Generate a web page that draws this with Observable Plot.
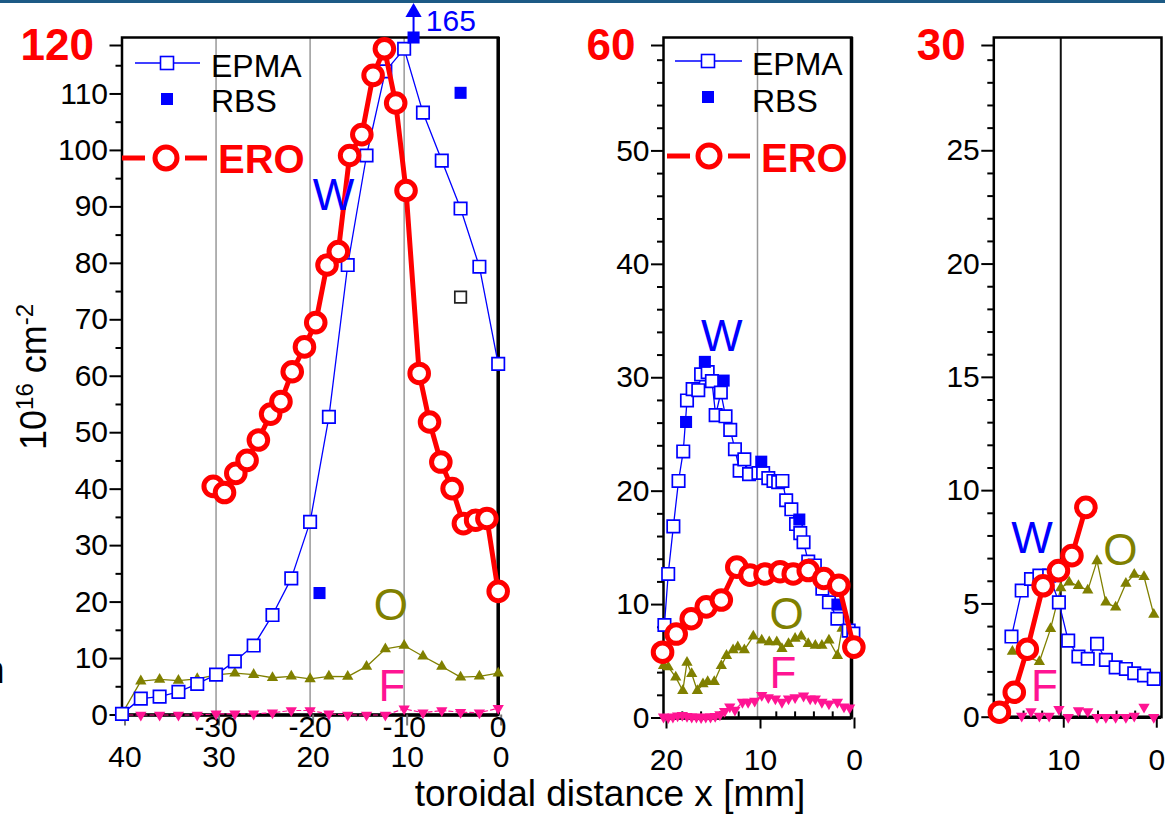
<!DOCTYPE html>
<html>
<head>
<meta charset="utf-8">
<script src="https://cdn.jsdelivr.net/npm/d3@7"></script>
<script src="https://cdn.jsdelivr.net/npm/@observablehq/plot@0.6"></script>
<style>
  html, body { margin:0; padding:0; background:#fff; }
  #root { position:relative; width:1165px; height:815px; overflow:hidden; background:#fff;
          font-family:"Liberation Sans", Arial, Helvetica, sans-serif; }
  .panel { position:absolute; top:0; }
  .panel svg { overflow: visible; }
  #overlay { position:absolute; left:0; top:0; pointer-events:none; overflow:visible; }
</style>
</head>
<body>
<div id="root"></div>
<script>
// ================= DATA =================
// ---- Panel 1 (x: 40 .. 0 mm, y: 0..120) ----
const epma1X = [40,38,36,34,32,30,28,26,24,22,20,18,16,14,12,10,8,6,4,2,0];
const epma1Y = [0.2,2.9,3.25,4.1,5.5,7.15,9.5,12.3,17.7,24.2,34.2,52.8,79.7,99.1,114,118.0,106.7,98.2,89.7,79.4,62.2];
const rbs1X = [19,9,4];
const rbs1Y = [21.6,165,110.2];
const extra1X = [4];
const extra1Y = [74];
const ero1X = [30.3,29.1,27.9,26.7,25.5,24.2,23.1,21.9,20.6,19.4,18.2,17.0,15.8,14.5,13.3,12.1,10.9,9.8,8.4,7.3,6.1,4.9,3.7,2.4,1.2,0];
const ero1Y = [40.5,39.4,42.8,45.1,48.7,53.3,55.5,60.8,65.2,69.5,79.7,82.1,99.1,102.8,113.3,118.0,108.4,92.9,60.5,51.9,44.8,40.1,33.9,34.5,34.8,21.9];
const o1X = [40,38,36,34,32,30,28,26,24,22,20,18,16,14,12,10,8,6,4,2,0];
const o1Y = [0.2,6.0,6.3,6.1,6.4,7.1,7.4,7.15,6.6,6.85,6.4,6.85,6.8,8.6,11.7,12.3,10.4,8.6,6.7,6.85,7.4];
const f1X = [40,38,36,34,32,30,28,26,24,22,20,18,16,14,12,10,8,6,4,2,0];
const f1Y = [0,0,0,0,0,0.2,0.2,0.2,0.4,0.8,0.8,0.2,0,0,0,1.1,0.4,0.8,0.5,0.4,1.2];

// ---- Panel 2 (x: 20 .. 0 mm, y: 0..60) ----
const epma2X = [19.9,19.5,18.95,18.4,17.9,17.5,16.9,16.3,16.0,15.3,14.85,14.45,13.9,13.4,12.9,12.4,11.9,11.4,10.9,9.9,9.4,8.85,8.3,7.8,7.35,6.95,6.4,5.9,5.45,5.1,4.6,3.9,3.1,2.4,1.5,0.3,-0.2];
const epma2Y = [8.2,12.7,16.9,20.9,23.5,28.0,29.0,28.9,30.3,30.5,29.7,26.7,28.7,26.6,25.4,23.7,21.8,22.8,21.5,21.6,21.6,21.15,20.9,20.8,20.9,19.2,18.4,17.1,16.3,15.5,13.8,13.45,11.4,10.2,8.75,7.7,7.45];
const rbs2X = [17.6,15.6,13.6,9.6,5.55,1.5];
const rbs2Y = [26.1,31.4,29.75,22.6,17.5,10.0];
const ero2X = [20.1,18.65,17.05,15.45,13.85,12.2,10.8,9.2,7.6,6.2,4.6,2.95,1.35,-0.25];
const ero2Y = [5.8,7.4,8.75,9.8,10.4,13.3,12.6,12.7,12.9,12.7,13.0,12.3,11.7,6.25];
const o2X = [20,19.5,18.7,17.95,17.5,17.0,16.4,15.8,15.3,14.6,13.85,13.3,12.6,12.1,11.4,10.45,9.55,8.75,7.95,7.4,6.7,6.0,5.35,4.6,3.85,3.15,2.4,1.5,1.0,0.1];
const o2Y = [4.6,4.5,3.6,2.4,4.9,3.9,2.4,3.0,3.2,3.2,4.6,5.5,6.0,6.25,6.0,7.2,6.85,6.7,6.7,6.1,6.55,7.0,7.2,6.55,6.4,6.4,6.85,5.5,7.9,7.1];
const f2X = [20,19.5,19,18.5,18,17.5,17,16.5,16,15.5,15,14.5,14,13.5,12.95,12.4,11.6,11.0,10.3,9.55,8.85,8.1,7.4,6.7,6.0,5.1,4.4,3.85,3.15,2.4,1.5,0.8,0.2];
const f2Y = [0.1,0.05,0.1,0.2,0.25,0.15,0.1,0.1,0.05,0.1,0.1,0.15,0.3,0.6,1.0,0.7,1.4,1.4,1.5,2.0,1.8,1.7,1.4,1.7,1.8,1.95,1.7,1.7,1.4,1.25,1.4,1.0,0.9];

// ---- Panel 3 (x: ~17 .. 0 mm, y: 0..30) ----
const epma3X = [15.3,14.2,13.2,12.3,11.25,10.2,9.2,8.1,7.1,6.1,5.15,4.1,3.0,2.1,1.05,0];
const epma3Y = [3.56,5.59,6.1,6.25,6.25,5.07,3.38,2.68,2.58,3.24,2.53,2.2,2.13,1.94,1.84,1.69];
const ero3X = [16.6,15.0,13.6,11.9,10.25,8.8,7.3];
const ero3Y = [0.22,1.1,3.0,5.8,6.47,7.13,9.26];
const o3X = [15.2,12.3,11.1,10.0,9.1,8.1,7.1,6.1,5.15,4.1,3.0,2.1,1.05,0];
const o3Y = [2.9,2.45,3.9,5.7,5.96,5.8,5.6,6.9,5.07,4.85,5.9,6.3,6.2,4.53];
const f3X = [14.2,13.2,12.3,11.25,10.2,9.2,8.1,7.1,6.1,5.15,4.1,3.0,2.1,1.05,0];
const f3Y = [0.05,0.25,0.05,0.05,0.35,0,0.3,0.25,0,0,0,0,0.05,0.45,0];

// ---- tick values / labels ----
const yMajor1 = [0,10,20,30,40,50,60,70,80,90,100,110];
const yMinor1 = [5,15,25,35,45,55,65,75,85,95,105,115];
const yTop1 = 120;
const yMajor2 = [0,10,20,30,40,50];
const yMinor2 = [2,4,6,8,12,14,16,18,22,24,26,28,32,34,36,38,42,44,46,48,52,54,56,58];
const yTop2 = 60;
const yMajor3 = [0,5,10,15,20,25];
const yMinor3 = [1,2,3,4,6,7,8,9,11,12,13,14,16,17,18,19,21,22,23,24,26,27,28,29];
const yTop3 = 30;
const xMajor1 = [40,30,20,10,0];
const xAlt1 = [30,20,10,0];
const xAltLabels1 = ["-30","-20","-10","0"];
const xMajor2 = [20,10,0];
const xMinor2 = [18,16,14,12,8,6,4,2];
const xMajor3 = [10,0];
const xMinor3 = [16,14,12,8,6,4,2];

// ---- in-plot labels ----
const labels1 = [{t:"W", x:17.5, y:92, c:"#0000ff"}, {t:"O", x:11.4, y:19.4, c:"#808000"}, {t:"F", x:11.3, y:4.9, c:"#ff1493"}];
const labels2 = [{t:"W", x:13.8, y:33.6, c:"#0000ff"}, {t:"O", x:6.9, y:9.05, c:"#808000"}, {t:"F", x:7.3, y:3.85, c:"#ff1493"}];
const labels3 = [{t:"W", x:13.1, y:7.86, c:"#0000ff"}, {t:"O", x:3.6, y:7.35, c:"#808000"}, {t:"F", x:11.75, y:1.35, c:"#ff1493"}];

// ================= HELPERS =================
const FONT = "'Liberation Sans', Arial, Helvetica, sans-serif";
const BLUE = "#0000ff", RED = "#ff0000", OLIVE = "#808000", PINK = "#ff1493";
const pts = (xs, ys) => xs.map((x, i) => ({x, y: ys[i]}));
const triDown = {
  draw(ctx, size) {
    const s3 = Math.sqrt(3);
    const y = -Math.sqrt(size / (s3 * 3));
    ctx.moveTo(0, -y * 2);
    ctx.lineTo(-s3 * y, y);
    ctx.lineTo(s3 * y, y);
    ctx.closePath();
  }
};

function makePanel(cfg) {
  const yMax = cfg.yTop;
  const marks = [];
  marks.push(Plot.ruleX(cfg.grid, {stroke: cfg.gridColor, strokeWidth: cfg.gridWidth}));
  if (cfg.xMinor) marks.push(Plot.ruleX(cfg.xMinor, {y1: 0, y2: yMax * 0.009, stroke: "black", strokeWidth: 2}));
  marks.push(Plot.frame({stroke: "black", strokeWidth: 2.5}));
  marks.push(Plot.ruleY([0], {stroke: "black", strokeWidth: 3.5}));
  if (cfg.thickRight) marks.push(Plot.ruleX([0], {stroke: "black", strokeWidth: 3.5}));
  // y axis
  marks.push(Plot.axisY({ticks: cfg.yMajor, tickSize: 12, tickPadding: 2, fontSize: 30, stroke: "black", strokeWidth: 2, fill: "black", label: null, tickFormat: d => String(d)}));
  marks.push(Plot.axisY({ticks: cfg.yMinor, tickSize: 6, stroke: "black", strokeWidth: 2, fill: "none", label: null}));
  marks.push(Plot.axisY({ticks: [yMax], tickSize: 12, tickPadding: 16, fontSize: 44, fontWeight: "bold", fill: RED, stroke: "black", strokeWidth: 2, dy: 8, label: null, tickFormat: d => String(d)}));
  // x axis
  marks.push(Plot.axisX({ticks: cfg.xMajor, tickSize: 11, tickPadding: 20, fontSize: 30, dx: 3, stroke: cfg.xTickColor || "black", strokeWidth: 2, fill: "black", label: null, tickFormat: d => String(d)}));
  if (cfg.xAlt) marks.push(Plot.axisX({ticks: cfg.xAlt, tickSize: 0, tickPadding: 1, fontSize: 30, fill: "black", label: null, tickFormat: d => cfg.xAltLabels[cfg.xAlt.indexOf(d)]}));
  // series
  const o = pts(cfg.oX, cfg.oY), f = pts(cfg.fX, cfg.fY), e = pts(cfg.epmaX, cfg.epmaY), r = pts(cfg.eroX, cfg.eroY);
  marks.push(Plot.line(o, {x: "x", y: "y", stroke: OLIVE, strokeWidth: 1.3}));
  marks.push(Plot.dot(o, {x: "x", y: "y", symbol: "triangle", r: 4.2, fill: OLIVE, stroke: "none"}));
  if (cfg.fLine) marks.push(Plot.line(f, {x: "x", y: "y", stroke: PINK, strokeWidth: 1.2, strokeDasharray: cfg.fDash || null}));
  marks.push(Plot.dot(f, {x: "x", y: "y", symbol: triDown, r: 4.2, fill: PINK, stroke: "none"}));
  marks.push(Plot.line(e, {x: "x", y: "y", stroke: BLUE, strokeWidth: 1.3}));
  marks.push(Plot.dot(e, {x: "x", y: "y", symbol: "square", r: 7, fill: "white", stroke: BLUE, strokeWidth: 1.7}));
  if (cfg.extraX) marks.push(Plot.dot(pts(cfg.extraX, cfg.extraY), {x: "x", y: "y", symbol: "square", r: 6.5, fill: "white", stroke: "#222", strokeWidth: 1.7}));
  if (cfg.rbsX) {
    const rb = pts(cfg.rbsX, cfg.rbsY);
    const over = rb.filter(d => d.y > yMax);
    marks.push(Plot.dot(rb, {x: "x", y: d => Math.min(d.y, yMax), symbol: "square", r: 6.8, fill: BLUE, stroke: "none"}));
    if (over.length) {
      marks.push(Plot.ruleX(over, {x: "x", y1: yMax, y2: yMax * 1.03, stroke: BLUE, strokeWidth: 2}));
      marks.push(Plot.dot(over, {x: "x", y: yMax * 1.037, symbol: "triangle", r: 6, fill: BLUE, stroke: "none"}));
      marks.push(Plot.text(over, {x: d => d.x - 1.3, y: yMax * 1.024, text: d => String(d.y), fill: BLUE, fontSize: 30, textAnchor: "start"}));
    }
  }
  marks.push(Plot.line(r, {x: "x", y: "y", stroke: RED, strokeWidth: 5}));
  marks.push(Plot.dot(r, {x: "x", y: "y", r: 9.3, fill: "white", stroke: RED, strokeWidth: 5}));
  marks.push(Plot.text(cfg.labels, {x: "x", y: "y", text: "t", fill: "c", fontSize: 44}));

  const svg = Plot.plot({
    width: cfg.width, height: 815,
    marginLeft: cfg.mL, marginRight: cfg.mR, marginTop: cfg.mT, marginBottom: cfg.mB,
    x: {domain: cfg.xDomain},
    y: {domain: [0, yMax]},
    style: {fontFamily: FONT, background: "none", overflow: "visible", color: "black"},
    marks
  });
  const div = document.createElement("div");
  div.className = "panel";
  div.style.left = cfg.left + "px";
  div.appendChild(svg);
  document.getElementById("root").appendChild(div);
}

makePanel({
  left: 0, width: 540, mL: 121.5, mR: 42.3, mT: 37, mB: 100.5,
  xDomain: [40, 0], yTop: yTop1, yMajor: yMajor1, yMinor: yMinor1,
  xMajor: xMajor1, xAlt: xAlt1, xAltLabels: xAltLabels1, xTickColor: "#777",
  grid: [30, 20, 10], gridColor: "#999", gridWidth: 1.5, thickRight: true,
  epmaX: epma1X, epmaY: epma1Y, rbsX: rbs1X, rbsY: rbs1Y, extraX: extra1X, extraY: extra1Y,
  eroX: ero1X, eroY: ero1Y, oX: o1X, oY: o1Y, fX: f1X, fY: f1Y, fLine: true, fDash: "4,3",
  labels: labels1
});
makePanel({
  left: 540, width: 340, mL: 123, mR: 29, mT: 37, mB: 97.5,
  xDomain: [20, 0], yTop: yTop2, yMajor: yMajor2, yMinor: yMinor2,
  xMajor: xMajor2, xMinor: xMinor2,
  grid: [10], gridColor: "#999", gridWidth: 1.5, thickRight: true,
  epmaX: epma2X, epmaY: epma2Y, rbsX: rbs2X, rbsY: rbs2Y,
  eroX: ero2X, eroY: ero2Y, oX: o2X, oY: o2Y, fX: f2X, fY: f2Y, fLine: true,
  labels: labels2
});
makePanel({
  left: 880, width: 285, mL: 113.3, mR: 4, mT: 37, mB: 98.3,
  xDomain: [17.2, -0.83], yTop: yTop3, yMajor: yMajor3, yMinor: yMinor3,
  xMajor: xMajor3, xMinor: xMinor3,
  grid: [10], gridColor: "#111", gridWidth: 2,
  epmaX: epma3X, epmaY: epma3Y,
  eroX: ero3X, eroY: ero3Y, oX: o3X, oY: o3Y, fX: f3X, fY: f3Y, fLine: false,
  labels: labels3
});

// ================= OVERLAY (header bar, titles, legends) =================
const ov = d3.select("#root").append("svg").attr("id", "overlay")
  .attr("width", 1165).attr("height", 815).style("font-family", FONT);
ov.append("rect").attr("x", 0).attr("y", 0).attr("width", 1165).attr("height", 3).attr("fill", "#1c5a85");

// x-axis title
ov.append("text").attr("x", 610).attr("y", 806).attr("text-anchor", "middle")
  .attr("font-size", 37).attr("fill", "black").text("toroidal distance x [mm]");

// y-axis title 10^16 cm^-2
const yt = ov.append("text").attr("transform", "translate(46,450) rotate(-90)")
  .attr("font-size", 36).attr("fill", "black");
yt.append("tspan").text("10");
yt.append("tspan").attr("font-size", 24).attr("dy", -13).text("16");
yt.append("tspan").attr("dy", 13).text(" cm");
yt.append("tspan").attr("font-size", 24).attr("dy", -13).text("-2");

// cut-off character at left edge
ov.append("text").attr("x", -16.5).attr("y", 683).attr("font-size", 38).attr("fill", "black").text("n");

function legend(o) {
  const g = ov.append("g");
  g.append("line").attr("x1", o.l1).attr("x2", o.l2).attr("y1", o.y1).attr("y2", o.y1).attr("stroke", BLUE).attr("stroke-width", 1.5);
  g.append("rect").attr("x", o.sx - 6.5).attr("y", o.y1 - 6.5).attr("width", 13).attr("height", 13).attr("fill", "white").attr("stroke", BLUE).attr("stroke-width", 1.6);
  g.append("text").attr("x", o.tx).attr("y", o.b1).attr("font-size", 32).attr("fill", "black").text("EPMA");
  g.append("rect").attr("x", o.sx - 6).attr("y", o.y2 - 6).attr("width", 12).attr("height", 12).attr("fill", BLUE);
  g.append("text").attr("x", o.tx).attr("y", o.b2).attr("font-size", 32).attr("fill", "black").text("RBS");
  g.append("line").attr("x1", o.e1).attr("x2", o.e2).attr("y1", o.y3).attr("y2", o.y3).attr("stroke", RED).attr("stroke-width", 5);
  g.append("line").attr("x1", o.e3).attr("x2", o.e4).attr("y1", o.y3).attr("y2", o.y3).attr("stroke", RED).attr("stroke-width", 5);
  g.append("circle").attr("cx", o.cx).attr("cy", o.y3).attr("r", 11).attr("fill", "white").attr("stroke", RED).attr("stroke-width", 5);
  g.append("text").attr("x", o.etx).attr("y", o.b3).attr("font-size", 40).attr("font-weight", "bold").attr("fill", RED).text("ERO");
}
legend({l1: 135, l2: 200, sx: 167, y1: 63, tx: 211, b1: 76.5, y2: 99, b2: 111.7,
        e1: 122, e2: 145, e3: 185, e4: 207, cx: 166, y3: 158, etx: 218, b3: 173});
legend({l1: 675, l2: 742, sx: 708, y1: 61, tx: 752, b1: 75, y2: 97, b2: 111.7,
        e1: 667, e2: 690, e3: 728, e4: 750, cx: 709, y3: 156, etx: 761, b3: 171.7});
</script>
</body>
</html>
